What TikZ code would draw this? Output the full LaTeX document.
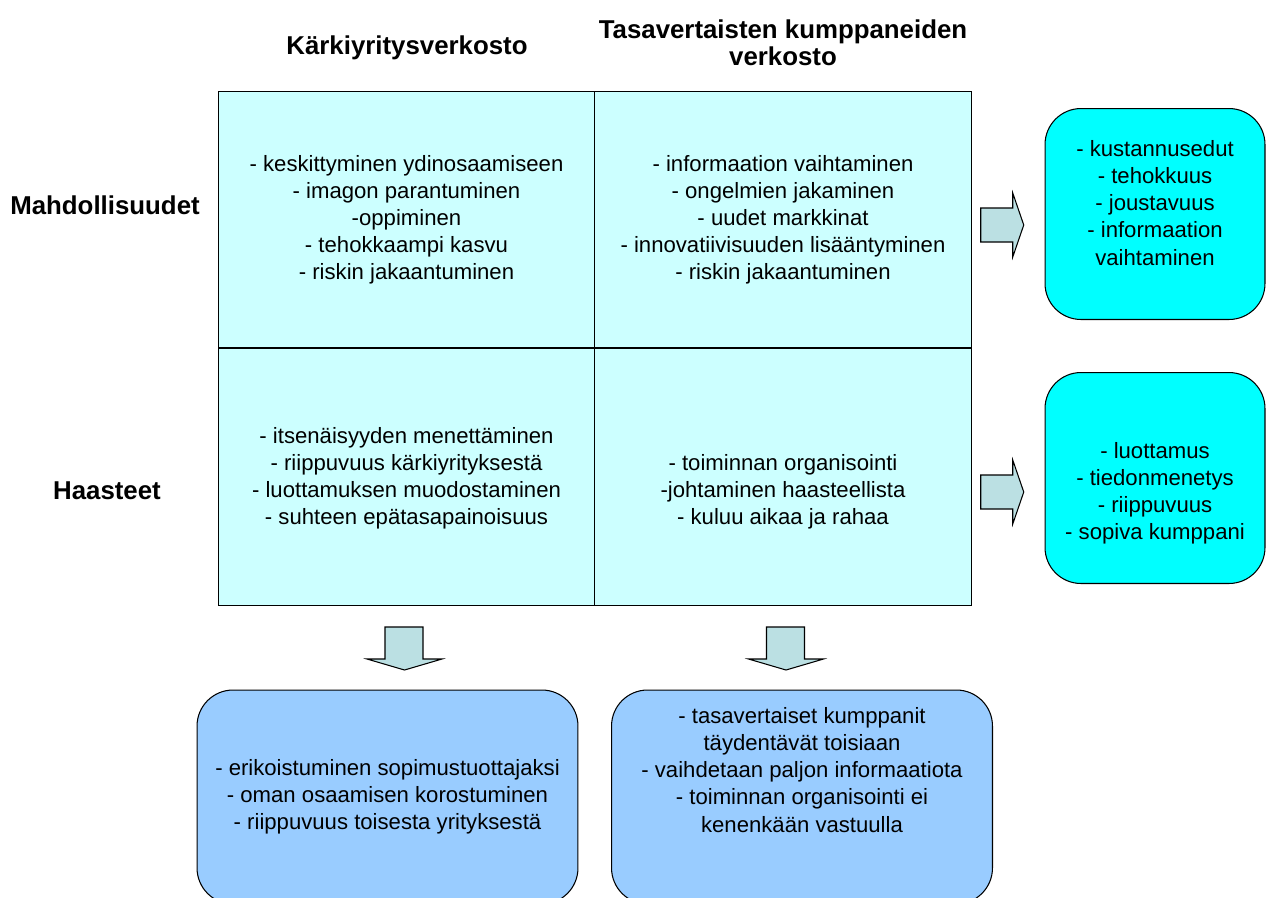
\documentclass[tikz,border=0pt]{standalone}
\usepackage{fontspec}
\setmainfont{Liberation Sans}
\usetikzlibrary{calc}

\definecolor{cellcol}{RGB}{204,255,255}
\definecolor{sidecol}{RGB}{0,255,255}
\definecolor{botcol}{RGB}{153,204,255}
\definecolor{arrcol}{RGB}{187,224,227}

\begin{document}
\begin{tikzpicture}[
    x=0.02cm, y=-0.02cm,
    cell/.style={draw,fill=cellcol,line width=0.6pt,minimum width=7.53cm,minimum height=5.14cm,inner sep=0pt},
    sidebox/.style={draw,fill=sidecol,line width=0.6pt,rounded corners=0.72cm,minimum width=4.4cm,minimum height=4.22cm,inner sep=0pt},
    botbox/.style={draw,fill=botcol,line width=0.6pt,rounded corners=0.72cm,minimum width=7.62cm,minimum height=4.28cm,inner sep=0pt},
    txt/.style={align=center,font=\fontsize{12.6}{15.4}\selectfont},
    hdr/.style={align=center,font=\fontsize{14.7}{15.4}\selectfont\bfseries},
    blk/.style={draw,fill=arrcol,line width=0.6pt,line join=miter},
]
\useasboundingbox (0,0) rectangle (1267,897);
\clip (0,0) rectangle (1267,897);

% Headers
\node[hdr] (h1) at (407,48) {Kärkiyritysverkosto};
\node[hdr] (h2) at (783,43) {Tasavertaisten kumppaneiden\\verkosto};
\node[hdr] (r1) at (105,205) {Mahdollisuudet};
\node[hdr] (r2) at (107,491) {Haasteet};

% Grid cells
\node[cell] (c11) at (406.5,219.5) {};
\node[cell] (c12) at (783,219.5) {};
\node[cell] (c21) at (406.5,477) {};
\node[cell] (c22) at (783,477) {};

\node[txt] (t11) at (c11.center) {- keskittyminen ydinosaamiseen\\- imagon parantuminen\\-oppiminen\\- tehokkaampi kasvu\\- riskin jakaantuminen};
\node[txt] (t12) at (c12.center) {- informaation vaihtaminen\\- ongelmien jakaminen\\- uudet markkinat\\- innovatiivisuuden lisääntyminen\\- riskin jakaantuminen};
\node[txt] (t21) at ($(c21.center)+(0,1)$) {- itsenäisyyden menettäminen\\- riippuvuus kärkiyrityksestä\\- luottamuksen muodostaminen\\- suhteen epätasapainoisuus};
\node[txt] (t22) at ($(c22.center)+(0,15)$) {- toiminnan organisointi\\-johtaminen haasteellista\\- kuluu aikaa ja rahaa};

% Side boxes
\node[sidebox] (s1) at (1155,214) {};
\node[sidebox] (s2) at (1155,478) {};
\node[txt] (ts1) at ($(s1.center)+(0,-11)$) {- kustannusedut\\- tehokkuus\\- joustavuus\\- informaation\\vaihtaminen};
\node[txt] (ts2) at ($(s2.center)+(0,15)$) {- luottamus\\- tiedonmenetys\\- riippuvuus\\- sopiva kumppani};

% Bottom boxes
\node[botbox] (b1) at (387.5,797) {};
\node[botbox] (b2) at (802,797) {};
\node[txt] (tb1) at (b1.center) {- erikoistuminen sopimustuottajaksi\\- oman osaamisen korostuminen\\- riippuvuus toisesta yrityksestä};
\node[txt] (tb2) at ($(b2.center)+(0,-27)$) {- tasavertaiset kumppanit\\täydentävät toisiaan\\- vaihdetaan paljon informaatiota\\- toiminnan organisointi ei\\kenenkään vastuulla};

% Block arrows
\coordinate (a1) at ($(c12.east)+(9,-11.5)$);
\coordinate (a2) at ($(c22.east)+(9,-2)$);
\coordinate (a3) at ($(c21.south)+(-21.5,21)$);
\coordinate (a4) at ($(c22.south)+(-16.5,21)$);

\draw[blk] (a1) -- ++(32,0) -- ++(0,-15) -- ++(11,32) -- ++(-11,32) -- ++(0,-15) -- ++(-32,0) -- cycle;
\draw[blk] (a2) -- ++(32,0) -- ++(0,-15) -- ++(11,32) -- ++(-11,32) -- ++(0,-15) -- ++(-32,0) -- cycle;
\draw[blk] (a3) -- ++(38,0) -- ++(0,32) -- ++(19,0) -- ++(-37.5,11) -- ++(-37.5,-11) -- ++(18,0) -- cycle;
\draw[blk] (a4) -- ++(38,0) -- ++(0,32) -- ++(19,0) -- ++(-37.5,11) -- ++(-37.5,-11) -- ++(18,0) -- cycle;

\end{tikzpicture}
\end{document}
